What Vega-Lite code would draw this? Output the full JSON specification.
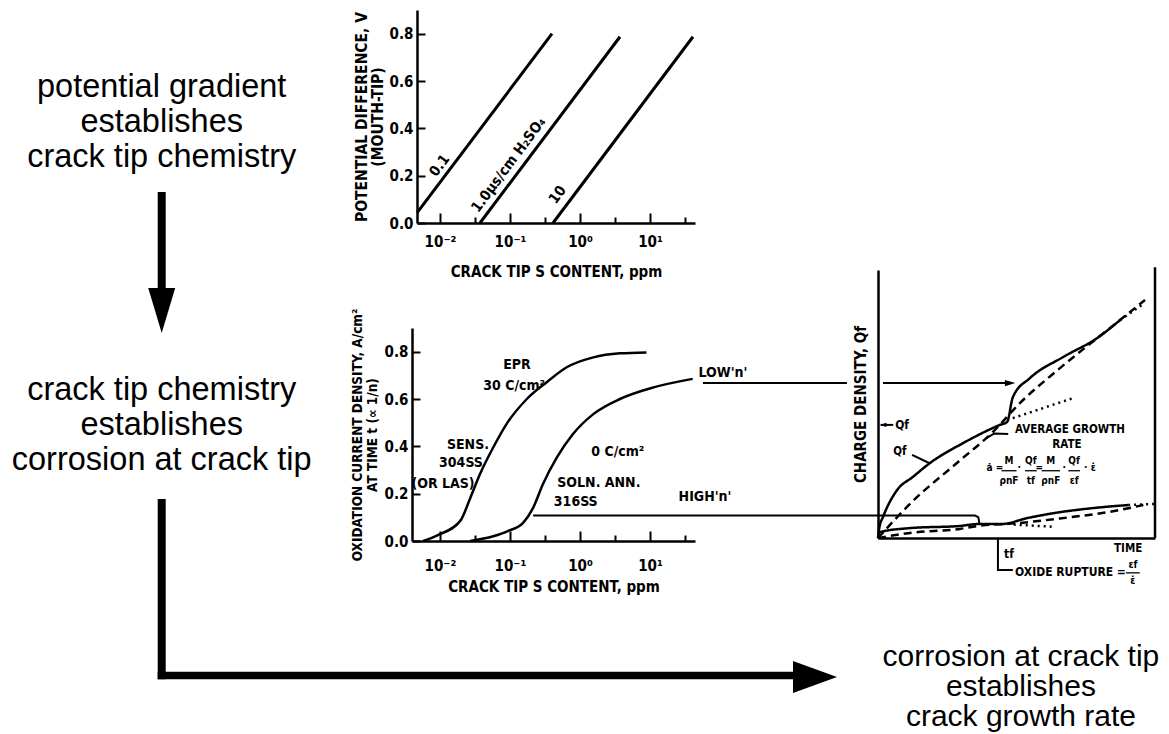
{
  "$schema": "https://vega.github.io/schema/vega-lite/v6.json",
  "background": "white",
  "padding": {"left": 0, "top": 10, "right": 0, "bottom": 0},
  "spacing": 0,
  "bounds": "flush",
  "config": {
    "view": {"stroke": null},
    "axis": {"grid": false, "domainColor": "black", "domainWidth": 2.5, "tickColor": "black", "tickWidth": 2, "labelColor": "black", "titleColor": "black", "labelFont": "Liberation Sans Narrow, Arial Narrow, DejaVu Sans Condensed, sans-serif", "titleFont": "Liberation Sans Narrow, Arial Narrow, DejaVu Sans Condensed, sans-serif", "labelFontWeight": "bold", "titleFontWeight": "bold", "labelFlush": false, "labelOverlap": false},
    "text": {"color": "black"},
    "line": {"color": "black"},
    "rule": {"color": "black"},
    "point": {"color": "black"}
  },
  "hconcat": [
    {
      "width": 412,
      "height": 724,
      "data": {"values": [{}]},
      "layer": [
        {"mark": {"type": "rule", "strokeWidth": 8, "strokeCap": "butt"},
         "encoding": {
           "x": {"datum": 0.3925, "type": "quantitative", "scale": {"domain": [0, 1], "nice": false, "zero": false}, "axis": null},
           "y": {"datum": 0.2514, "type": "quantitative", "scale": {"domain": [0, 1], "nice": false, "zero": false, "reverse": true}, "axis": null},
           "y2": {"datum": 0.4006}}},
        {"mark": {"type": "point", "shape": "M-0.6,-1L0.6,-1L0,1Z", "size": 2025, "filled": true, "opacity": 1, "strokeWidth": 0},
         "encoding": {"x": {"datum": 0.3925, "type": "quantitative"}, "y": {"datum": 0.415, "type": "quantitative"}}},
        {"mark": {"type": "rule", "strokeWidth": 8, "strokeCap": "butt"},
         "encoding": {"x": {"datum": 0.3925, "type": "quantitative"}, "y": {"datum": 0.6754, "type": "quantitative"}, "y2": {"datum": 0.9245}}},
        {"mark": {"type": "rule", "strokeWidth": 7.6, "strokeCap": "butt"},
         "encoding": {"x": {"datum": 0.3828, "type": "quantitative"}, "x2": {"datum": 1.9417}, "y": {"datum": 0.9192, "type": "quantitative"}}},
        {"mark": {"type": "point", "shape": "M-1,-0.727L1,0L-1,0.727Z", "size": 1936, "filled": true, "opacity": 1, "strokeWidth": 0},
         "encoding": {"x": {"datum": 1.9782, "type": "quantitative"}, "y": {"datum": 0.9213, "type": "quantitative"}}},
        {"data": {"values": [{"txt": "potential gradient\nestablishes\ncrack tip chemistry"}]},
         "mark": {"type": "text", "font": "Liberation Sans, Arial, Helvetica, sans-serif", "fontSize": 32.5, "lineHeight": 35, "lineBreak": "\n", "align": "center", "baseline": "middle"},
         "encoding": {"text": {"field": "txt"}, "x": {"datum": 0.3925, "type": "quantitative"}, "y": {"datum": 0.1064, "type": "quantitative"}}},
        {"data": {"values": [{"txt": "crack tip chemistry\nestablishes\ncorrosion at crack tip"}]},
         "mark": {"type": "text", "font": "Liberation Sans, Arial, Helvetica, sans-serif", "fontSize": 32.5, "lineHeight": 35, "lineBreak": "\n", "align": "center", "baseline": "middle"},
         "encoding": {"text": {"field": "txt"}, "x": {"datum": 0.3925, "type": "quantitative"}, "y": {"datum": 0.5249, "type": "quantitative"}}}
      ]
    },
    {
      "spacing": 466,
      "bounds": "flush",
      "hconcat": [
        {
          "spacing": 318,
          "bounds": "flush",
          "vconcat": [
            {
              "spacing": 4,
              "bounds": "flush",
              "hconcat": [
                {"width": 1, "height": 10, "data": {"values": []}, "mark": "text"},
                {
                  "width": 278,
                  "height": 213,
                  "layer": [
                    {"data": {"values": [
                      {"acid": "0.1", "ppm": 0.004688, "v": 0.043},
                      {"acid": "0.1", "ppm": 0.3981, "v": 0.8},
                      {"acid": "1.0", "ppm": 0.03715, "v": 0},
                      {"acid": "1.0", "ppm": 3.724, "v": 0.787},
                      {"acid": "10", "ppm": 0.4111, "v": 0},
                      {"acid": "10", "ppm": 41.11, "v": 0.787}
                    ]},
                     "mark": {"type": "line", "strokeWidth": 3, "clip": false},
                     "encoding": {
                       "x": {"field": "ppm", "type": "quantitative", "scale": {"type": "log", "domain": [0.004688, 43.95], "nice": false},
                             "axis": {"values": [0.01, 0.031623, 0.1, 0.31623, 1, 3.1623, 10, 31.623],
                                      "labelExpr": "datum.value == 0.01 ? '10⁻²' : datum.value == 0.1 ? '10⁻¹' : datum.value == 1 ? '10⁰' : datum.value == 10 ? '10¹' : ''",
                                      "tickSize": {"condition": {"test": "datum.value == 0.01 || datum.value == 0.1 || datum.value == 1 || datum.value == 10", "value": -10}, "value": -6},
                                      "labelFontSize": 15, "labelPadding": 21, "title": "CRACK TIP S CONTENT, ppm", "titleFontSize": 15, "titlePadding": 11}},
                       "y": {"field": "v", "type": "quantitative", "scale": {"domain": [0, 0.9], "nice": false, "zero": false},
                             "axis": {"values": [0, 0.1, 0.2, 0.3, 0.4, 0.5, 0.6, 0.7, 0.8],
                                      "labelExpr": "round(datum.value*10) % 2 == 0 ? format(datum.value, '.1f') : ''",
                                      "tickSize": -8, "labelFontSize": 15, "labelPadding": 12,
                                      "title": ["POTENTIAL DIFFERENCE, V", "(MOUTH-TIP)"], "titleFontSize": 15.5, "titleLineHeight": 16, "titlePadding": 4}},
                       "detail": {"field": "acid", "type": "nominal"}}},
                    {"data": {"values": [
                      {"label": "0.1", "ppm": 0.01, "v": 0.241},
                      {"label": "1.0µs/cm H₂SO₄", "ppm": 0.0968, "v": 0.245},
                      {"label": "10", "ppm": 0.4853, "v": 0.118}
                    ]},
                     "mark": {"type": "text", "angle": 306.5, "font": "Liberation Sans Narrow, Arial Narrow, DejaVu Sans Condensed, sans-serif", "fontWeight": "bold", "fontSize": 14.5, "align": "center", "baseline": "middle"},
                     "encoding": {"x": {"field": "ppm", "type": "quantitative"}, "y": {"field": "v", "type": "quantitative"}, "text": {"field": "label"}}}
                  ]
                }
              ]
            },
            {
              "width": 283,
              "height": 213,
              "layer": [
                {"data": {"values": [
                  {"curve": "EPR 30", "ppm": 0.005754, "v": 0},
                  {"curve": "EPR 30", "ppm": 0.009333, "v": 0.025},
                  {"curve": "EPR 30", "ppm": 0.0195, "v": 0.085},
                  {"curve": "EPR 30", "ppm": 0.02692, "v": 0.18},
                  {"curve": "EPR 30", "ppm": 0.03715, "v": 0.282},
                  {"curve": "EPR 30", "ppm": 0.05754, "v": 0.395},
                  {"curve": "EPR 30", "ppm": 0.08913, "v": 0.494},
                  {"curve": "EPR 30", "ppm": 0.1738, "v": 0.6},
                  {"curve": "EPR 30", "ppm": 0.3311, "v": 0.67},
                  {"curve": "EPR 30", "ppm": 0.6457, "v": 0.734},
                  {"curve": "EPR 30", "ppm": 1.549, "v": 0.776},
                  {"curve": "EPR 30", "ppm": 3.715, "v": 0.793},
                  {"curve": "EPR 30", "ppm": 8.913, "v": 0.797},
                  {"curve": "EPR 0", "ppm": 0.02692, "v": 0},
                  {"curve": "EPR 0", "ppm": 0.05754, "v": 0.02},
                  {"curve": "EPR 0", "ppm": 0.09333, "v": 0.042},
                  {"curve": "EPR 0", "ppm": 0.1549, "v": 0.078},
                  {"curve": "EPR 0", "ppm": 0.2138, "v": 0.14},
                  {"curve": "EPR 0", "ppm": 0.2951, "v": 0.24},
                  {"curve": "EPR 0", "ppm": 0.4677, "v": 0.353},
                  {"curve": "EPR 0", "ppm": 0.7943, "v": 0.452},
                  {"curve": "EPR 0", "ppm": 1.549, "v": 0.536},
                  {"curve": "EPR 0", "ppm": 3.715, "v": 0.6},
                  {"curve": "EPR 0", "ppm": 11.22, "v": 0.649},
                  {"curve": "EPR 0", "ppm": 40.74, "v": 0.685}
                ]},
                 "mark": {"type": "line", "interpolate": "monotone", "strokeWidth": 2.5, "clip": false},
                 "encoding": {
                   "x": {"field": "ppm", "type": "quantitative", "scale": {"type": "log", "domain": [0.003981, 43.95], "nice": false},
                         "axis": {"values": [0.01, 0.031623, 0.1, 0.31623, 1, 3.1623, 10, 31.623],
                                  "labelExpr": "datum.value == 0.01 ? '10⁻²' : datum.value == 0.1 ? '10⁻¹' : datum.value == 1 ? '10⁰' : datum.value == 10 ? '10¹' : ''",
                                  "tickSize": {"condition": {"test": "datum.value == 0.01 || datum.value == 0.1 || datum.value == 1 || datum.value == 10", "value": -10}, "value": -6},
                                  "labelFontSize": 15, "labelPadding": 27, "title": "CRACK TIP S CONTENT, ppm", "titleFontSize": 15, "titlePadding": 2}},
                   "y": {"field": "v", "type": "quantitative", "scale": {"domain": [0, 0.9], "nice": false, "zero": false},
                         "axis": {"values": [0, 0.1, 0.2, 0.3, 0.4, 0.5, 0.6, 0.7, 0.8],
                                  "labelExpr": "round(datum.value*10) % 2 == 0 ? format(datum.value, '.1f') : ''",
                                  "tickSize": -8, "labelFontSize": 15, "labelPadding": 12,
                                  "title": ["OXIDATION CURRENT DENSITY, A/cm²", "AT TIME t (∝ 1/n)"], "titleFontSize": 13.5, "titleLineHeight": 15, "titlePadding": 5}},
                   "detail": {"field": "curve", "type": "nominal"}}},
                {"data": {"values": [
                  {"label": "EPR", "ppm": 0.1259, "v": 0.744},
                  {"label": "30 C/cm²", "ppm": 0.1148, "v": 0.655},
                  {"label": "SENS.", "ppm": 0.0251, "v": 0.406},
                  {"label": "304SS", "ppm": 0.01995, "v": 0.328},
                  {"label": "(OR LAS)", "ppm": 0.01104, "v": 0.241},
                  {"label": "0 C/cm²", "ppm": 3.47, "v": 0.377},
                  {"label": "SOLN. ANN.", "ppm": 1.86, "v": 0.244},
                  {"label": "316SS", "ppm": 0.87, "v": 0.166},
                  {"label": "HIGH'n'", "ppm": 61.1, "v": 0.186},
                  {"label": "LOW'n'", "ppm": 110.4, "v": 0.71}
                ]},
                 "mark": {"type": "text", "font": "Liberation Sans Narrow, Arial Narrow, DejaVu Sans Condensed, sans-serif", "fontWeight": "bold", "fontSize": 14, "align": "center", "baseline": "middle"},
                 "encoding": {"x": {"field": "ppm", "type": "quantitative"}, "y": {"field": "v", "type": "quantitative"}, "text": {"field": "label"}}}
              ]
            }
          ]
        },
        {
          "spacing": 10,
          "bounds": "flush",
          "vconcat": [
            {"width": 277, "height": 250, "data": {"values": []}, "mark": "text"},
            {
              "width": 277,
              "height": 268,
              "layer": [
                {"data": {"values": [
                  {"curve": "upper", "style": "solid", "t": 0, "q": 0},
                  {"curve": "upper", "style": "solid", "t": 0.05, "q": 0.4},
                  {"curve": "upper", "style": "solid", "t": 0.18, "q": 0.78},
                  {"curve": "upper", "style": "solid", "t": 0.69, "q": 1.79},
                  {"curve": "upper", "style": "solid", "t": 1.26, "q": 2.28},
                  {"curve": "upper", "style": "solid", "t": 1.88, "q": 2.8},
                  {"curve": "upper", "style": "solid", "t": 3.07, "q": 3.54},
                  {"curve": "upper", "style": "solid", "t": 4.4, "q": 4.22},
                  {"curve": "upper", "style": "solid", "t": 4.66, "q": 4.33},
                  {"curve": "upper", "style": "solid", "t": 4.87, "q": 5.26},
                  {"curve": "upper", "style": "solid", "t": 5.49, "q": 5.97},
                  {"curve": "upper", "style": "solid", "t": 6.68, "q": 6.75},
                  {"curve": "upper", "style": "solid", "t": 7.91, "q": 7.46},
                  {"curve": "upper", "style": "solid", "t": 8.74, "q": 8.13},
                  {"curve": "upper extension", "style": "dotted", "t": 8.74, "q": 8.13},
                  {"curve": "upper extension", "style": "dotted", "t": 9.6, "q": 8.75},
                  {"curve": "upper average", "style": "dashed", "t": 0, "q": 0},
                  {"curve": "upper average", "style": "dashed", "t": 1.26, "q": 1.38},
                  {"curve": "upper average", "style": "dashed", "t": 2.85, "q": 2.8},
                  {"curve": "upper average", "style": "dashed", "t": 4.15, "q": 3.96},
                  {"curve": "upper average", "style": "dashed", "t": 5.13, "q": 5.04},
                  {"curve": "upper average", "style": "dashed", "t": 6.57, "q": 6.34},
                  {"curve": "upper average", "style": "dashed", "t": 8.38, "q": 7.84},
                  {"curve": "upper average", "style": "dashed", "t": 9.64, "q": 8.88},
                  {"curve": "upper no rupture", "style": "dotted", "t": 4.66, "q": 4.4},
                  {"curve": "upper no rupture", "style": "dotted", "t": 7.04, "q": 5.22},
                  {"curve": "lower", "style": "solid", "t": 0, "q": 0},
                  {"curve": "lower", "style": "solid", "t": 0.07, "q": 0.22},
                  {"curve": "lower", "style": "solid", "t": 1.16, "q": 0.37},
                  {"curve": "lower", "style": "solid", "t": 2.96, "q": 0.45},
                  {"curve": "lower", "style": "solid", "t": 3.61, "q": 0.52},
                  {"curve": "lower", "style": "solid", "t": 4.44, "q": 0.52},
                  {"curve": "lower", "style": "solid", "t": 5.42, "q": 0.75},
                  {"curve": "lower", "style": "solid", "t": 6.61, "q": 0.97},
                  {"curve": "lower", "style": "solid", "t": 7.8, "q": 1.12},
                  {"curve": "lower", "style": "solid", "t": 9.03, "q": 1.23},
                  {"curve": "lower extension", "style": "dotted", "t": 9.03, "q": 1.23},
                  {"curve": "lower extension", "style": "dotted", "t": 10, "q": 1.27},
                  {"curve": "lower average", "style": "dashed", "t": 0, "q": 0},
                  {"curve": "lower average", "style": "dashed", "t": 1.16, "q": 0.19},
                  {"curve": "lower average", "style": "dashed", "t": 2.96, "q": 0.34},
                  {"curve": "lower average", "style": "dashed", "t": 3.61, "q": 0.45},
                  {"curve": "lower average", "style": "dashed", "t": 5.0, "q": 0.55},
                  {"curve": "lower average", "style": "dashed", "t": 6.57, "q": 0.73},
                  {"curve": "lower average", "style": "dashed", "t": 8.38, "q": 0.98},
                  {"curve": "lower average", "style": "dashed", "t": 9.58, "q": 1.23},
                  {"curve": "lower no rupture", "style": "dotted", "t": 4.9, "q": 0.5},
                  {"curve": "lower no rupture", "style": "dotted", "t": 6.3, "q": 0.42}
                ]},
                 "mark": {"type": "line", "interpolate": "monotone", "strokeWidth": 2.5, "clip": false},
                 "encoding": {
                   "x": {"field": "t", "type": "quantitative", "scale": {"domain": [0, 10], "nice": false, "zero": false},
                         "axis": {"title": null, "labels": false, "ticks": false, "domainWidth": 2.5}},
                   "y": {"field": "q", "type": "quantitative", "scale": {"domain": [0, 10], "nice": false, "zero": false},
                         "axis": {"title": "CHARGE DENSITY, Qf", "labels": false, "ticks": false, "domainWidth": 2.5, "titleFontSize": 15, "titlePadding": 10}},
                   "detail": {"field": "curve", "type": "nominal"},
                   "strokeDash": {"field": "style", "type": "nominal", "scale": {"domain": ["solid", "dashed", "dotted"], "range": [[1, 0], [8, 5], [2, 4]]}, "legend": null}}},
                {"data": {"values": [
                  {"id": "low1", "o": 1, "t": -6.32, "q": 5.78},
                  {"id": "low1", "o": 2, "t": -1.12, "q": 5.78},
                  {"id": "low2", "o": 1, "t": 0.18, "q": 5.78},
                  {"id": "low2", "o": 2, "t": 4.7, "q": 5.78},
                  {"id": "high", "o": 1, "t": -12.45, "q": 0.84},
                  {"id": "high", "o": 2, "t": 3.5, "q": 0.84},
                  {"id": "high", "o": 3, "t": 3.62, "q": 0.78},
                  {"id": "high", "o": 4, "t": 3.66, "q": 0.56},
                  {"id": "qf", "o": 1, "t": 0.1, "q": 4.22},
                  {"id": "qf", "o": 2, "t": 0.55, "q": 4.22},
                  {"id": "qflead", "o": 1, "t": 1.23, "q": 3.1},
                  {"id": "qflead", "o": 2, "t": 1.88, "q": 2.78},
                  {"id": "avglead", "o": 1, "t": 3.9, "q": 3.72},
                  {"id": "avglead", "o": 2, "t": 4.2, "q": 3.9},
                  {"id": "avglead", "o": 3, "t": 4.7, "q": 3.88},
                  {"id": "tf", "o": 1, "t": 4.33, "q": -0.05},
                  {"id": "tf", "o": 2, "t": 4.33, "q": -1.19},
                  {"id": "tf", "o": 3, "t": 4.87, "q": -1.19}
                ]},
                 "mark": {"type": "line", "strokeWidth": 2, "clip": false},
                 "encoding": {"x": {"field": "t", "type": "quantitative"}, "y": {"field": "q", "type": "quantitative"}, "detail": {"field": "id", "type": "nominal"}, "order": {"field": "o", "type": "quantitative"}}},
                {"data": {"values": [
                  {"id": "b1", "t": 4.46, "q": 2.51}, {"id": "b1", "t": 5.0, "q": 2.51},
                  {"id": "b2", "t": 5.31, "q": 2.51}, {"id": "b2", "t": 5.73, "q": 2.51},
                  {"id": "b3", "t": 5.91, "q": 2.51}, {"id": "b3", "t": 6.57, "q": 2.51},
                  {"id": "b4", "t": 6.87, "q": 2.51}, {"id": "b4", "t": 7.29, "q": 2.51},
                  {"id": "b5", "t": 8.95, "q": -1.3}, {"id": "b5", "t": 9.45, "q": -1.3}
                ]},
                 "mark": {"type": "line", "strokeWidth": 1.3, "clip": false},
                 "encoding": {"x": {"field": "t", "type": "quantitative"}, "y": {"field": "q", "type": "quantitative"}, "detail": {"field": "id", "type": "nominal"}}},
                {"data": {"values": [{}]},
                 "mark": {"type": "rule", "strokeWidth": 2.5, "strokeCap": "butt"},
                 "encoding": {"x": {"datum": 10, "type": "quantitative"}, "y": {"datum": 0, "type": "quantitative"}, "y2": {"datum": 10.1}}},
                {"data": {"values": [{}]},
                 "mark": {"type": "point", "shape": "M-1,-0.6L1,0L-1,0.6Z", "size": 110, "filled": true, "opacity": 1, "strokeWidth": 0},
                 "encoding": {"x": {"datum": 4.77, "type": "quantitative"}, "y": {"datum": 5.78, "type": "quantitative"}}},
                {"data": {"values": [{}]},
                 "mark": {"type": "point", "shape": "M1,-0.6L-1,0L1,0.6Z", "size": 49, "filled": true, "opacity": 1, "strokeWidth": 0},
                 "encoding": {"x": {"datum": 0.18, "type": "quantitative"}, "y": {"datum": 4.22, "type": "quantitative"}}},
                {"data": {"values": [
                  {"label": "AVERAGE GROWTH", "t": 6.93, "q": 4.03},
                  {"label": "RATE", "t": 6.82, "q": 3.47},
                  {"label": "TIME", "t": 9.03, "q": -0.4},
                  {"label": "Qf", "t": 0.79, "q": 3.21}
                ]},
                 "mark": {"type": "text", "font": "Liberation Sans Narrow, Arial Narrow, DejaVu Sans Condensed, sans-serif", "fontWeight": "bold", "fontSize": 11.5, "align": "center", "baseline": "middle"},
                 "encoding": {"x": {"field": "t", "type": "quantitative"}, "y": {"field": "q", "type": "quantitative"}, "text": {"field": "label"}}},
                {"data": {"values": [
                  {"label": "Qf", "t": 0.62, "q": 4.22},
                  {"label": "tf", "t": 4.55, "q": -0.6},
                  {"label": "OXIDE RUPTURE =", "t": 4.95, "q": -1.25}
                ]},
                 "mark": {"type": "text", "font": "Liberation Sans Narrow, Arial Narrow, DejaVu Sans Condensed, sans-serif", "fontWeight": "bold", "fontSize": 12, "align": "left", "baseline": "middle"},
                 "encoding": {"x": {"field": "t", "type": "quantitative"}, "y": {"field": "q", "type": "quantitative"}, "text": {"field": "label"}}},
                {"data": {"values": [
                  {"label": "ȧ =", "t": 4.22, "q": 2.61},
                  {"label": "M", "t": 4.73, "q": 2.86},
                  {"label": "ρnF", "t": 4.73, "q": 2.14},
                  {"label": "·", "t": 5.1, "q": 2.61},
                  {"label": "Qf", "t": 5.52, "q": 2.86},
                  {"label": "tf", "t": 5.52, "q": 2.14},
                  {"label": "=", "t": 5.82, "q": 2.61},
                  {"label": "M", "t": 6.24, "q": 2.86},
                  {"label": "ρnF", "t": 6.24, "q": 2.14},
                  {"label": "·", "t": 6.72, "q": 2.61},
                  {"label": "Qf", "t": 7.08, "q": 2.86},
                  {"label": "εf", "t": 7.08, "q": 2.14},
                  {"label": "· ε̇", "t": 7.65, "q": 2.61},
                  {"label": "εf", "t": 9.2, "q": -1.02},
                  {"label": "ε̇", "t": 9.2, "q": -1.62}
                ]},
                 "mark": {"type": "text", "font": "Liberation Sans Narrow, Arial Narrow, DejaVu Sans Condensed, sans-serif", "fontWeight": "bold", "fontSize": 10, "align": "center", "baseline": "middle"},
                 "encoding": {"x": {"field": "t", "type": "quantitative"}, "y": {"field": "q", "type": "quantitative"}, "text": {"field": "label"}}}
              ]
            },
            {
              "width": 277,
              "height": 186,
              "data": {"values": [{"txt": "corrosion at crack tip\nestablishes\ncrack growth rate"}]},
              "mark": {"type": "text", "font": "Liberation Sans, Arial, Helvetica, sans-serif", "fontSize": 30, "lineHeight": 30, "lineBreak": "\n", "align": "center", "baseline": "middle"},
              "encoding": {
                "text": {"field": "txt"},
                "x": {"datum": 0.516, "type": "quantitative", "scale": {"domain": [0, 1], "nice": false, "zero": false}, "axis": null},
                "y": {"datum": 0.586, "type": "quantitative", "scale": {"domain": [0, 1], "nice": false, "zero": false, "reverse": true}, "axis": null}
              }
            }
          ]
        }
      ]
    }
  ]
}
